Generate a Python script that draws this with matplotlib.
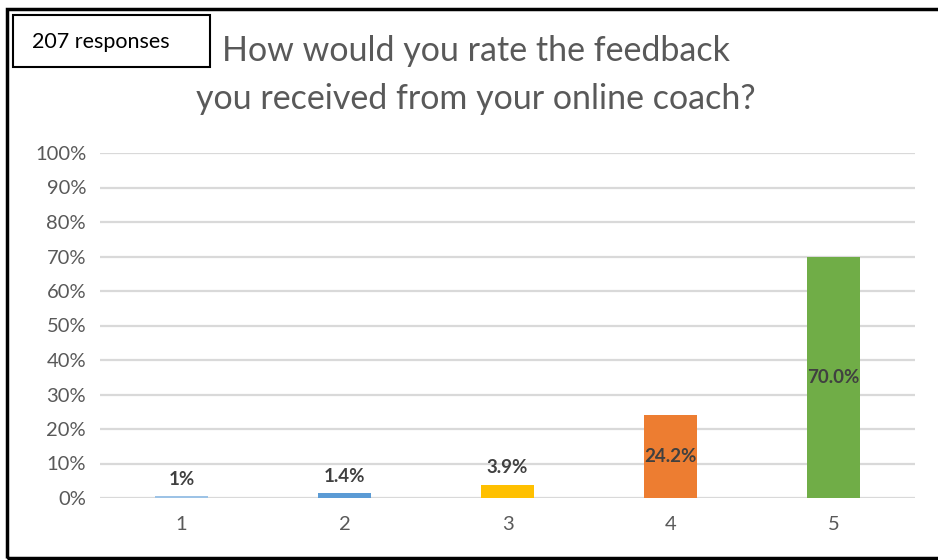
import matplotlib.pyplot as plt
import matplotlib.patches as patches
from matplotlib.ticker import PercentFormatter

plt.rcParams['font.family'] = ['Lato', 'DejaVu Sans']

# data
ratings = ['1', '2', '3', '4', '5']
share = [0.5, 1.4, 3.9, 24.2, 70.0]
share_labels = ['1%', '1.4%', '3.9%', '24.2%', '70.0%']
bar_colors = ['#9DC3E6', '#5B9BD5', '#FFC000', '#ED7D31', '#70AD47']
inside = [False, False, False, True, True]

fig = plt.figure(figsize=(9.38, 5.6), dpi=100)
ax = fig.add_axes([100 / 938, 1 - 498 / 560, 815 / 938, 345 / 560])

x = range(len(ratings))
bars = ax.bar(x, share, width=0.32, color=bar_colors, zorder=3)

ax.set_xlim(-0.5, len(ratings) - 0.5)
ax.set_ylim(0, 100)
ax.set_yticks(range(0, 101, 10))
ax.yaxis.set_major_formatter(PercentFormatter(decimals=0))
ax.set_xticks(list(x))
ax.set_xticklabels(ratings)
ax.grid(axis='y', color='#D9D9D9', linewidth=1.6, zorder=0)
for s in ax.spines.values():
    s.set_visible(False)
ax.tick_params(length=0, labelsize=14.5, colors='#595959', pad=10)
ax.tick_params(axis='x', pad=13)

for b, lab, ins in zip(bars, share_labels, inside):
    cx = b.get_x() + b.get_width() / 2
    if ins:
        ax.text(cx, b.get_height() / 2, lab, ha='center', va='center',
                fontsize=13.5, fontweight='bold', color='#404040', zorder=4)
    else:
        ax.annotate(lab, (cx, b.get_height()), xytext=(0, 6), textcoords='offset points',
                    ha='center', va='bottom', fontsize=13.5, fontweight='bold', color='#404040')

# title
fig.text(476 / 938, 1 - 75 / 560, 'How would you rate the feedback\nyou received from your online coach?',
         ha='center', va='center', fontsize=24.5, color='#595959', linespacing=1.62)

# response count box
fig.patches.append(patches.Rectangle((13 / 938, 1 - 67 / 560), 197 / 938, 52 / 560,
                                     transform=fig.transFigure, fill=False, edgecolor='black', linewidth=1.5))
fig.text(101 / 938, 1 - 42 / 560, '207 responses', ha='center', va='center', fontsize=15.5, color='black')

# outer frame (right side runs off the image)
fig.patches.append(patches.Rectangle((7 / 938, 1 - 558 / 560), 960 / 938, 549 / 560,
                                     transform=fig.transFigure, fill=False, edgecolor='black', linewidth=2.5))

fig.savefig('out.png', dpi=100)
